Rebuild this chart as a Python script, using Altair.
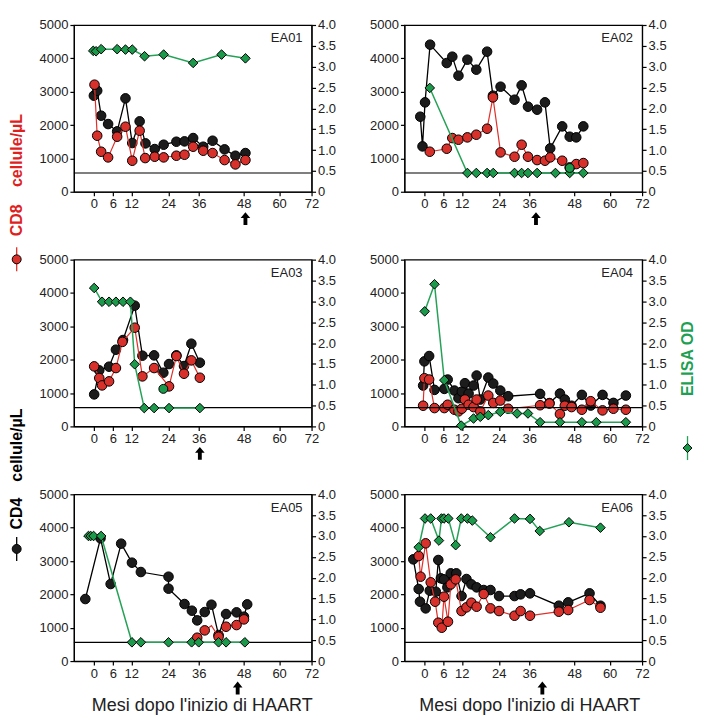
import altair as alt
import pandas as pd

# ---------------- data: [months after HAART start, value] ----------------
EA01_CD4 = [[0.0, 2880], [1.05, 3030], [2.3, 2280], [4.5, 2030], [7.4, 1810], [10.1, 2800], [12.3, 1460],
            [14.7, 2110], [16.6, 1450], [19.6, 1280], [22.5, 1410], [27.2, 1500], [30.4, 1510], [33.8, 1610],
            [37.2, 1350], [39.7, 1530], [42.9, 1270], [45.8, 1080], [48.6, 1160]]
EA01_CD8 = [[0.2, 3210], [1.05, 1680], [2.3, 1200], [4.5, 1030], [7.4, 1650], [10.1, 1950], [12.3, 930],
            [14.7, 1830], [16.5, 1010], [19.6, 1050], [22.5, 1030], [27.2, 1080], [30.4, 1110], [33.8, 1350],
            [37.2, 1230], [39.7, 1160], [42.9, 950], [45.8, 820], [48.6, 950]]
EA01_OD = [[-0.2, 3.38], [0.7, 3.37], [2.3, 3.42], [7.4, 3.42], [10.1, 3.41], [12.3, 3.41], [16.3, 3.25],
           [22.5, 3.29], [33.8, 3.09], [42.1, 3.29], [48.6, 3.2]]
EA01_OD_EXTRA = []
EA01_ARROW = [48.6]

EA02_CD4 = [[-1.3, 2250], [-0.6, 1360], [0.2, 2680], [1.8, 4410], [7.1, 3860], [8.9, 4050], [10.9, 3480],
            [13.8, 3960], [16.7, 3660], [20.2, 4200], [22.1, 2880], [24.7, 3150], [30.2, 2760], [33.0, 3190],
            [35.5, 2550], [38.1, 2460], [40.2, 2680], [41.6, 1300], [44.8, 1960], [46.8, 1650], [48.7, 1630],
            [51.1, 1960]]
EA02_CD8 = [[1.7, 1200], [7.1, 1290], [8.9, 1610], [10.9, 1560], [13.8, 1630], [16.7, 1710], [20.2, 1890],
            [22.1, 2830], [24.7, 1180], [30.2, 1050], [33.0, 1410], [35.5, 1050], [38.1, 950], [40.2, 930],
            [41.6, 1030], [44.8, 930], [46.8, 730], [48.7, 830], [51.1, 860]]
EA02_OD = [[1.7, 2.49], [13.8, 0.45], [16.7, 0.45], [20.2, 0.45], [22.2, 0.45], [30.2, 0.45], [33.0, 0.45],
           [35.5, 0.45], [38.1, 0.45], [43.0, 0.45], [46.8, 0.45], [51.1, 0.45]]
EA02_OD_EXTRA = [[46.8, 0.57]]
EA02_ARROW = [37.8]

EA03_CD4 = [[0.1, 960], [1.7, 1680], [4.8, 1790], [7.0, 2300], [9.3, 2590], [13.1, 3620], [15.6, 2120],
            [19.4, 2130], [22.4, 1610], [24.3, 1870], [27.2, 2130], [30.2, 1810], [33.1, 2480], [36.3, 1910]]
EA03_CD8 = [[0.1, 1800], [1.7, 1450], [2.6, 1230], [4.8, 1350], [7.0, 1750], [9.1, 2535], [13.1, 2960],
            [15.6, 1500], [19.4, 1750], [24.3, 1200], [27.2, 2110], [30.2, 1580], [33.1, 1980], [36.3, 1460]]
EA03_OD = [[0.1, 3.32], [2.6, 2.99], [4.8, 2.99], [7.0, 2.99], [9.3, 2.99], [11.7, 2.99], [13.1, 1.49],
           [16.2, 0.44], [19.4, 0.44], [24.3, 0.44], [36.3, 0.44]]
EA03_OD_EXTRA = [[22.4, 0.9]]
EA03_ARROW = [36.3]

EA04_CD4 = [[-0.4, 1225], [0.0, 1950], [1.5, 2110], [3.2, 1095], [6.3, 1125], [7.4, 1405], [9.6, 1075],
            [10.9, 845], [12.0, 1045], [13.0, 1295], [14.2, 985], [15.8, 1225], [16.8, 1525], [18.0, 805],
            [20.6, 1465], [22.2, 1285], [24.6, 1075], [27.7, 905], [38.9, 975], [41.4, 700], [44.2, 985],
            [45.5, 805], [47.3, 620], [50.6, 945], [53.6, 625], [57.6, 945], [61.4, 705], [66.0, 925]]
EA04_CD8 = [[-0.4, 620], [0.0, 1445], [1.5, 1405], [3.2, 550], [6.3, 550], [7.4, 650], [9.6, 500],
            [10.9, 450], [12.0, 530], [13.0, 805], [14.2, 650], [15.8, 580], [16.8, 805], [18.0, 450],
            [20.6, 925], [22.2, 705], [24.6, 775], [27.7, 530], [38.9, 635], [41.4, 685], [44.2, 370],
            [45.5, 620], [47.3, 580], [50.6, 500], [53.6, 755], [57.6, 480], [61.4, 530], [66.0, 500]]
EA04_OD = [[0.1, 2.76], [3.2, 3.41], [6.3, 1.11], [11.8, 0.02], [15.8, 0.19], [18.0, 0.23], [20.6, 0.27],
           [24.6, 0.35], [31.2, 0.31], [35.5, 0.31], [38.9, 0.10], [44.2, 0.10], [50.6, 0.10], [55.5, 0.10],
           [66.0, 0.10]]
EA04_OD_EXTRA = []
EA04_ARROW = []

EA05_CD4 = [[-2.7, 1860], [2.1, 3680], [5.3, 2310], [8.7, 3520], [12.2, 2950], [15.1, 2670], [24.1, 2530],
            [24.1, 2170], [30.4, 1710], [33.3, 1510], [35.4, 1220], [37.6, 1470], [39.4, 1690], [41.3, 780],
            [43.3, 1410], [46.1, 1460], [48.1, 1330], [49.2, 1700]]
EA05_CD8 = [[35.4, 700], [37.6, 920], [39.4, 1060, 0], [41.3, 730], [43.3, 1030], [46.1, 1080], [48.1, 1250]]
EA05_OD = [[-1.7, 3.0], [-1.0, 3.0], [-0.1, 3.0], [2.3, 3.0], [12.2, 0.45], [15.1, 0.45], [24.1, 0.45],
           [33.2, 0.45], [36.0, 0.45], [41.3, 0.45], [43.3, 0.45], [48.4, 0.45]]
EA05_OD_EXTRA = []
EA05_ARROW = [46.4]

EA06_CD4 = [[-3.5, 3050], [-1.8, 2160], [-1.4, 1780], [0.4, 1580], [1.7, 2110], [3.6, 2080], [4.4, 3030],
            [5.2, 2480], [6.2, 2450], [7.3, 2210], [8.4, 2630], [10.2, 2630], [11.9, 1950], [13.5, 2460],
            [15.1, 2300], [16.8, 2210], [19.1, 2130], [21.3, 2130], [24.1, 1950], [30.2, 1950], [32.6, 2000],
            [36.2, 2030], [43.9, 1660], [46.4, 1760], [53.2, 2030], [56.9, 1660]]
EA06_CD8 = [[-1.8, 3150], [-1.2, 2530], [0.4, 3530], [2.0, 2360], [3.4, 1780], [4.4, 1150], [5.5, 1000],
            [6.2, 1930], [7.5, 1180], [8.4, 2300], [10.0, 2450], [11.9, 1500], [13.5, 1610], [15.1, 1750],
            [16.8, 1630], [19.1, 2010], [21.3, 1580], [24.1, 1500], [30.2, 1360], [32.6, 1500], [36.2, 1360],
            [43.9, 1480], [46.4, 1530], [53.2, 1830], [56.9, 1600]]
EA06_OD = [[-1.8, 2.73], [0.2, 3.42], [2.0, 3.42], [4.6, 2.89], [5.4, 3.42], [6.2, 3.42], [7.6, 3.42],
           [10.0, 2.78], [11.8, 3.42], [13.8, 3.42], [15.4, 3.37], [21.3, 2.97], [30.2, 3.42], [36.2, 3.41],
           [38.8, 3.12], [46.6, 3.33], [56.9, 3.2]]
EA06_OD_EXTRA = []
EA06_ARROW = [39.5]

THRESHOLD_OD = [0.45]
X_TICKS = [0, 6, 12, 24, 36, 48, 60, 72]
CELL_TICKS = [0, 1000, 2000, 3000, 4000, 5000]
OD_TICKS = [0, 0.5, 1.0, 1.5, 2.0, 2.5, 3.0, 3.5, 4.0]
X_TITLE = "Mesi dopo l'inizio di HAART"
CELL_LABEL = "cellule/\u00b5L"

# ---------------- layout / style ----------------
W, H = 238, 167
X_DOMAIN = [-6.3, 0, 6, 12, 24, 36, 48, 60, 72]
X_RANGE = [0, 20, 39, 57.5, 94.5, 125, 170, 205.5, 238]
FONT = "Liberation Sans"
TXT = "#222222"
RED_LINE, RED_FILL, RED_TEXT = "#e0302a", "#d8302a", "#e0201c"
GREEN_LINE, GREEN_FILL, GREEN_TEXT = "#25a257", "#1c9a4c", "#1e9f52"
BLACK_FILL = "#1c1c1c"
ARROW = "M0,-1L0.75,-0.1L0.3,-0.1L0.3,1L-0.3,1L-0.3,-0.1L-0.75,-0.1Z"
PT = 92


def frame(pairs, col):
    rows = []
    for i, p in enumerate(pairs):
        rows.append({"i": i, "month": p[0], col: p[1], "mk": p[2] if len(p) > 2 else 1})
    if not rows:
        return pd.DataFrame({"i": [], "month": [], col: [], "mk": []})
    return pd.DataFrame(rows)


def one():
    return pd.DataFrame({"k": [0]})


def vtext(xp, yp, text, color):
    return alt.Chart(pd.DataFrame({"t": [text]})).mark_text(
        angle=270, align="center", baseline="middle", fontSize=16, fontWeight="bold",
        font=FONT, color=color).encode(x=alt.value(xp), y=alt.value(yp), text="t:N")


def glyph(xp, yp, fill, shape, line_color):
    return [
        alt.Chart(one()).mark_rule(color=line_color, strokeWidth=1.3).encode(
            x=alt.value(xp), y=alt.value(yp - 12), y2=alt.value(yp + 12)),
        alt.Chart(one()).mark_point(shape=shape, filled=True, fill=fill, stroke="black",
                                    strokeWidth=1, size=80, opacity=1).encode(
            x=alt.value(xp), y=alt.value(yp)),
    ]


def panel(name, cd4, cd8, od, od_extra, arrow, title_x=None, extra_left=(), extra_right=()):
    xax_kw = dict(values=X_TICKS, tickSize=4, labelPadding=2, labelFlush=False, labelOverlap=False)
    if title_x is not None:
        xax_kw.update(title=X_TITLE, titleX=title_x, titleY=50, titleFontSize=18, titleFontWeight="normal",
                      titleBaseline="alphabetic", titleAlign="center", titleColor=TXT, titleFont=FONT)
    else:
        xax_kw.update(title=None)
    x = alt.X("month:Q", scale=alt.Scale(domain=X_DOMAIN, range=X_RANGE, nice=False, zero=False),
              axis=alt.Axis(**xax_kw))
    yl = alt.Y("cells:Q", scale=alt.Scale(domain=[0, 5000], nice=False),
               axis=alt.Axis(values=CELL_TICKS, orient="left", tickSize=4, labelPadding=2, format="d",
                             labelFlush=False, title=None))
    yr = alt.Y("od:Q", scale=alt.Scale(domain=[0, 4], nice=False),
               axis=alt.Axis(values=OD_TICKS, orient="right", tickSize=4, labelPadding=2,
                             labelFlush=False, title=None,
                             labelExpr="datum.value == 0 ? '0' : format(datum.value, '.1f')"))
    order = alt.Order("i:Q")

    def series(df, y, line_color, fill, shape, size, lw):
        line = alt.Chart(df).mark_line(color=line_color, strokeWidth=lw).encode(x=x, y=y, order=order)
        pts = alt.Chart(df).transform_filter("datum.mk == 1").mark_point(
            shape=shape, filled=True, fill=fill, stroke="black", strokeWidth=1, size=size,
            opacity=1).encode(x=x, y=y)
        return [line, pts]

    left = []
    if arrow:
        left.append(alt.Chart(pd.DataFrame({"month": arrow})).mark_point(
            shape=ARROW, filled=True, fill="black", size=165, opacity=1).encode(
            x=x, y=alt.value(H + 27)))
    left += series(frame(cd4, "cells"), yl, "black", BLACK_FILL, "circle", PT, 1.3)
    left += series(frame(cd8, "cells"), yl, RED_LINE, RED_FILL, "circle", PT, 1.2)
    left.append(alt.Chart(pd.DataFrame({"t": [name]})).mark_text(
        align="right", baseline="alphabetic", fontSize=13, font=FONT, color=TXT).encode(
        x=alt.value(W - 9), y=alt.value(17.5), text="t:N"))
    left += list(extra_left)

    right = [alt.Chart(pd.DataFrame({"od": THRESHOLD_OD})).mark_rule(color="black", strokeWidth=1.2).encode(y=yr)]
    right += series(frame(od, "od"), yr, GREEN_LINE, GREEN_FILL, "diamond", PT, 1.5)
    if od_extra:
        right.append(alt.Chart(frame(od_extra, "od")).mark_point(
            shape="circle", filled=True, fill=GREEN_FILL, stroke="black", strokeWidth=1, size=80,
            opacity=1).encode(x=x, y=yr))
    right += list(extra_right)

    return alt.layer(alt.layer(*left), alt.layer(*right)).resolve_scale(y="independent").properties(
        width=W, height=H)


LX = -57.3
left_legend = [
    vtext(LX, -109.3, CELL_LABEL, RED_TEXT),
    vtext(LX, -39.3, "CD8", RED_TEXT),
    *glyph(LX, -0.3, RED_FILL, "circle", RED_LINE),
    vtext(LX, 185.7, CELL_LABEL, "black"),
    vtext(LX, 254.2, "CD4", "black"),
    *glyph(LX, 289.7, BLACK_FILL, "circle", "black"),
]
RX = 283.5
right_legend = [
    vtext(RX, 99.2, "ELISA OD", GREEN_TEXT),
    *glyph(RX, 188.7, GREEN_FILL, "diamond", GREEN_LINE),
]

p1 = panel("EA01", EA01_CD4, EA01_CD8, EA01_OD, EA01_OD_EXTRA, EA01_ARROW)
p2 = panel("EA02", EA02_CD4, EA02_CD8, EA02_OD, EA02_OD_EXTRA, EA02_ARROW)
p3 = panel("EA03", EA03_CD4, EA03_CD8, EA03_OD, EA03_OD_EXTRA, EA03_ARROW, extra_left=left_legend)
p4 = panel("EA04", EA04_CD4, EA04_CD8, EA04_OD, EA04_OD_EXTRA, EA04_ARROW, extra_right=right_legend)
p5 = panel("EA05", EA05_CD4, EA05_CD8, EA05_OD, EA05_OD_EXTRA, EA05_ARROW, title_x=128)
p6 = panel("EA06", EA06_CD4, EA06_CD8, EA06_OD, EA06_OD_EXTRA, EA06_ARROW, title_x=125)

chart = alt.concat(p1, p2, p3, p4, p5, p6, columns=2, spacing={"row": 68, "column": 93},
                   bounds="flush").properties(
    padding={"left": 0, "top": 9.5, "right": 0, "bottom": 0}, background="white"
).configure_view(stroke="black", strokeWidth=1.2).configure_axis(
    grid=False, domainColor="black", tickColor="black", domainWidth=1.2, tickWidth=1.2,
    labelFont=FONT, labelFontSize=13, labelColor=TXT, titleFont=FONT
)

chart.save("out.html", embed_options={"renderer": "svg", "actions": False})
